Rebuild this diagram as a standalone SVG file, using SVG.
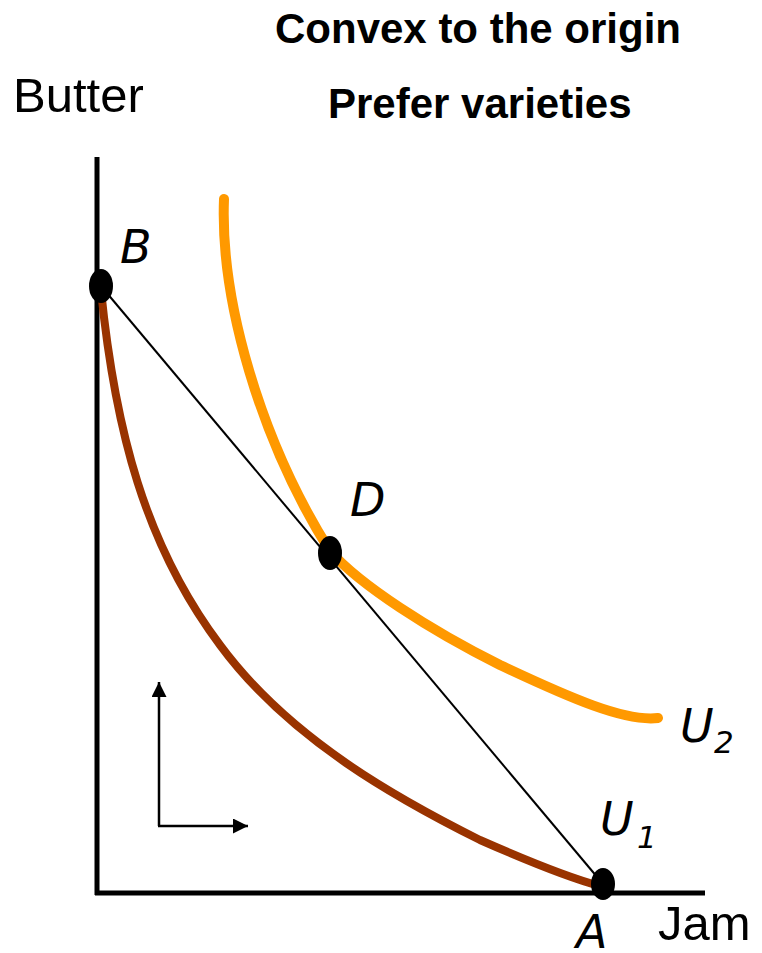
<svg xmlns="http://www.w3.org/2000/svg" width="762" height="953" viewBox="0 0 762 953">
<style>
.title{font-family:"Liberation Sans",Arial,sans-serif;font-weight:bold;font-size:42px;fill:#000}
.axis{font-family:"Liberation Sans",Arial,sans-serif;font-size:49px;fill:#000}
.lbl{font-family:"DejaVu Sans",Verdana,sans-serif;font-style:italic;font-size:46px;fill:#000}
.sub{font-family:"DejaVu Sans",Verdana,sans-serif;font-style:italic;font-size:31px;fill:#000}
.pt{fill:#000}
</style>
<defs>
<marker id="ah2" viewBox="0 0 10 10" refX="10" refY="5" markerWidth="15" markerHeight="15" markerUnits="userSpaceOnUse" orient="auto">
<path d="M0,0 L10,5 L0,10 z" fill="#000"/>
</marker>
</defs>
<rect width="762" height="953" fill="#fff"/>
<g id="titles">
<text class="title" x="275" y="43">Convex to the origin</text>
<text class="title" x="328" y="118">Prefer varieties</text>
</g>
<g id="axes">
<line x1="97" y1="157" x2="97" y2="895" stroke="#000" stroke-width="5"/>
<line x1="95" y1="893" x2="705" y2="893" stroke="#000" stroke-width="5"/>
<text class="axis" x="13" y="112">Butter</text>
<text class="axis" x="658" y="940">Jam</text>
</g>
<g id="connectors">
<line x1="101" y1="286" x2="603" y2="884" stroke="#000" stroke-width="2"/>
<line x1="159" y1="826" x2="159" y2="682" stroke="#000" stroke-width="2.5" marker-end="url(#ah2)"/>
<line x1="158" y1="826" x2="248" y2="826" stroke="#000" stroke-width="2.5" marker-end="url(#ah2)"/>
</g>
<g id="U1">
<path d="M101,290 C115,430 145,545 220,645 C290,740 400,800 480,840 C530,862 570,878 600,886" fill="none" stroke="#993300" stroke-width="8" stroke-linecap="round"/>
<text class="lbl" x="600" y="835">U</text>
<text class="sub" x="637" y="848">1</text>
</g>
<g id="U2">
<path d="M224,199 C220,300 260,440 330,551 C360,585 430,630 500,665 C570,698 625,722 658,718" fill="none" stroke="#FF9900" stroke-width="10" stroke-linecap="round"/>
<text class="lbl" x="680" y="742">U</text>
<text class="sub" x="714" y="753">2</text>
</g>
<g id="B">
<ellipse class="pt" cx="101" cy="286" rx="12" ry="17"/>
<text class="lbl" x="120" y="263">B</text>
</g>
<g id="D">
<ellipse class="pt" cx="330" cy="553" rx="12" ry="17"/>
<text class="lbl" x="350" y="516">D</text>
</g>
<g id="A">
<ellipse class="pt" cx="603" cy="884" rx="12" ry="16"/>
<text class="lbl" x="576" y="948">A</text>
</g>
</svg>
